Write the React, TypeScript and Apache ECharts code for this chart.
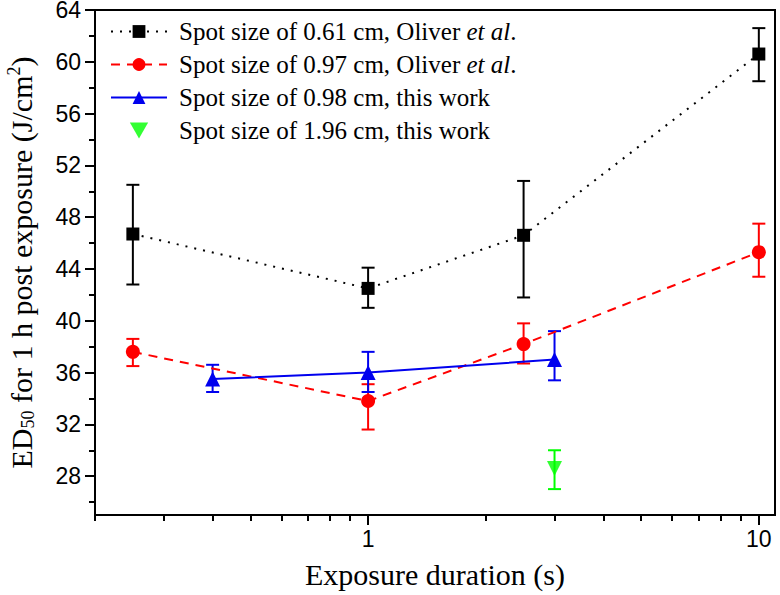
import { useEffect, useRef } from 'react';
import * as echarts from 'echarts';

// Axis ticks
const xMajorTicks = [1, 10];
const xMinorTicks = [0.2, 0.3, 0.4, 0.5, 0.6, 0.7, 0.8, 0.9, 2, 3, 4, 5, 6, 7, 8, 9];
const yMajorTicks = [28, 32, 36, 40, 44, 48, 52, 56, 60, 64];
const yMinorTicks = [26, 30, 34, 38, 42, 46, 50, 54, 58, 62];

// Series names
const name1 = 'Spot size of 0.61 cm, Oliver et al.';
const name2 = 'Spot size of 0.97 cm, Oliver et al.';
const name3 = 'Spot size of 0.98 cm, this work';
const name4 = 'Spot size of 1.96 cm, this work';

// Data
const blackX = [0.25, 1, 2.5, 10];
const blackY = [46.7, 42.5, 46.6, 60.6];
const blackLo = [42.8, 41.0, 41.8, 58.5];
const blackHi = [50.5, 44.1, 50.8, 62.6];

const redX = [0.25, 1, 2.5, 10];
const redY = [37.6, 33.8, 38.2, 45.3];
const redLo = [36.5, 31.6, 36.7, 43.4];
const redHi = [38.6, 35.1, 39.8, 47.5];

const blueX = [0.4, 1, 3];
const blueY = [35.5, 36.0, 37.0];
const blueLo = [34.5, 34.5, 35.4];
const blueHi = [36.6, 37.6, 39.2];

const greenX = [3];
const greenY = [28.6];
const greenLo = [27.0];
const greenHi = [30.0];

const BLACK = '#000000';
const RED = '#ff0000';
const BLUE = '#0000ee';
const GREEN = '#00ff00';

function pairs(xs: number[], ys: number[]) {
  return xs.map((x, i) => [x, ys[i]]);
}

function errorSeries(name: string, xs: number[], lo: number[], hi: number[], color: string) {
  return {
    type: 'custom',
    name,
    xAxisIndex: 0,
    yAxisIndex: 0,
    silent: true,
    z: 1,
    encode: { x: 0, y: [1, 2] },
    data: xs.map((x, i) => [x, lo[i], hi[i]]),
    renderItem: (_params: any, api: any) => {
      const x = api.value(0);
      const pl = api.coord([x, api.value(1)]);
      const ph = api.coord([x, api.value(2)]);
      const w = 6.5;
      const style = { stroke: color, lineWidth: 2, fill: 'none' };
      return {
        type: 'group',
        children: [
          { type: 'line', shape: { x1: pl[0], y1: pl[1], x2: ph[0], y2: ph[1] }, style },
          { type: 'line', shape: { x1: pl[0] - w, y1: pl[1], x2: pl[0] + w, y2: pl[1] }, style },
          { type: 'line', shape: { x1: ph[0] - w, y1: ph[1], x2: ph[0] + w, y2: ph[1] }, style },
        ],
      };
    },
  };
}

function legendLabel(name: string) {
  if (name.endsWith('et al.')) {
    return '{n|' + name.replace('et al.', '') + '}{i|et al}{n|.}';
  }
  return '{n|' + name + '}';
}

export default function App() {
  const ref = useRef<HTMLDivElement>(null);

  useEffect(() => {
    document.body.style.margin = '0';
    const chart = echarts.init(ref.current!, undefined, { renderer: 'svg' });
    const serif = 'Liberation Serif';
    const sans = 'Liberation Sans';
    const option: any = {
      animation: false,
      backgroundColor: '#ffffff',
      grid: {
        left: 95,
        right: 5,
        top: 10,
        bottom: 80,
        show: true,
        borderColor: '#000',
        borderWidth: 2,
        backgroundColor: 'transparent',
        containLabel: false,
        outerBoundsMode: 'none',
      },
      legend: {
        orient: 'vertical',
        left: 105,
        top: 14,
        itemWidth: 56,
        itemHeight: 16,
        itemGap: 8,
        data: [
          { name: name1 },
          { name: name2 },
          { name: name3 },
          { name: name4, icon: 'path://M0,0L16,0L8,14Z' },
        ],
        formatter: legendLabel,
        textStyle: {
          color: '#000',
          padding: [0, 0, 0, 7],
          rich: {
            n: { fontFamily: serif, fontSize: 25, color: '#000', lineHeight: 25 },
            i: { fontFamily: serif, fontSize: 25, color: '#000', fontStyle: 'italic', lineHeight: 25 },
          },
        },
      },
      xAxis: [
        {
          type: 'log',
          logBase: 10,
          min: 0.2,
          max: 11,
          position: 'bottom',
          axisLine: { show: true, lineStyle: { color: '#000', width: 2 } },
          axisTick: { show: true, customValues: xMajorTicks, length: 10, lineStyle: { color: '#000', width: 2 } },
          axisLabel: {
            customValues: xMajorTicks,
            color: '#000',
            fontFamily: sans,
            fontSize: 23,
            margin: 12,
          },
          splitLine: { show: false },
          minorTick: { show: false },
          name: 'Exposure duration (s)',
          nameLocation: 'middle',
          nameGap: 44,
          nameTextStyle: { fontFamily: serif, fontSize: 30, color: '#000' },
        },
        {
          type: 'log',
          logBase: 10,
          min: 0.2,
          max: 11,
          position: 'bottom',
          axisLine: { show: false },
          axisTick: { show: true, customValues: xMinorTicks, length: 6, lineStyle: { color: '#000', width: 2 } },
          axisLabel: { show: false },
          splitLine: { show: false },
        },
      ],
      yAxis: [
        {
          type: 'value',
          min: 25,
          max: 64,
          position: 'left',
          axisLine: { show: true, lineStyle: { color: '#000', width: 2 } },
          axisTick: { show: true, customValues: yMajorTicks, length: 10, lineStyle: { color: '#000', width: 2 } },
          axisLabel: {
            customValues: yMajorTicks,
            color: '#000',
            fontFamily: sans,
            fontSize: 23,
            margin: 14,
          },
          splitLine: { show: false },
          name: '{n|ED}{sub|50}{n| for 1 h post exposure (J/cm}{sup|2}{n|)}',
          nameLocation: 'middle',
          nameGap: 58,
          nameTextStyle: {
            color: '#000',
            rich: {
              n: { fontFamily: serif, fontSize: 30, color: '#000', lineHeight: 32 },
              sub: { fontFamily: serif, fontSize: 18, color: '#000', verticalAlign: 'bottom', lineHeight: 32 },
              sup: { fontFamily: serif, fontSize: 18, color: '#000', verticalAlign: 'top', lineHeight: 32 },
            },
          },
        },
        {
          type: 'value',
          min: 25,
          max: 64,
          position: 'left',
          axisLine: { show: false },
          axisTick: { show: true, customValues: yMinorTicks, length: 6, lineStyle: { color: '#000', width: 2 } },
          axisLabel: { show: false },
          splitLine: { show: false },
        },
      ],
      series: [
        errorSeries('err1', blackX, blackLo, blackHi, BLACK),
        errorSeries('err2', redX, redLo, redHi, RED),
        errorSeries('err3', blueX, blueLo, blueHi, BLUE),
        errorSeries('err4', greenX, greenLo, greenHi, GREEN),
        {
          type: 'line',
          name: name1,
          xAxisIndex: 0,
          yAxisIndex: 0,
          z: 3,
          data: pairs(blackX, blackY),
          symbol: 'rect',
          symbolSize: 13,
          showAllSymbol: true,
          itemStyle: { color: BLACK },
          lineStyle: { color: BLACK, width: 2, type: [2, 7] },
        },
        {
          type: 'line',
          name: name2,
          xAxisIndex: 0,
          yAxisIndex: 0,
          z: 3,
          data: pairs(redX, redY),
          symbol: 'circle',
          symbolSize: 14,
          itemStyle: { color: RED },
          lineStyle: { color: RED, width: 2, type: [9, 7] },
        },
        {
          type: 'line',
          name: name3,
          xAxisIndex: 0,
          yAxisIndex: 0,
          z: 3,
          data: pairs(blueX, blueY),
          symbol: 'triangle',
          symbolSize: 15,
          itemStyle: { color: BLUE },
          lineStyle: { color: BLUE, width: 2 },
        },
        {
          type: 'scatter',
          name: name4,
          xAxisIndex: 0,
          yAxisIndex: 0,
          z: 3,
          data: pairs(greenX, greenY),
          symbol: 'triangle',
          symbolRotate: 180,
          symbolSize: 15,
          itemStyle: { color: GREEN },
        },
      ],
    };
    chart.setOption(option);
    return () => chart.dispose();
  }, []);

  return (
    <div
      ref={ref}
      style={{ position: 'fixed', left: 0, top: 0, width: 780, height: 595, background: '#fff' }}
    />
  );
}
